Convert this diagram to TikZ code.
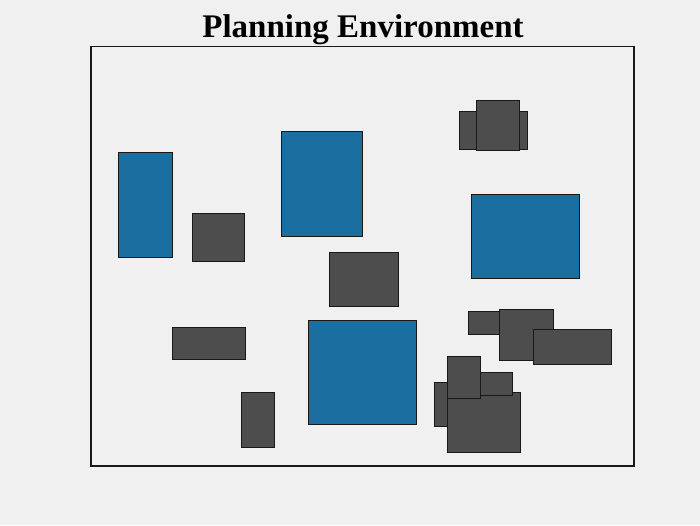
\documentclass[tikz,border=0pt]{standalone}
\usepackage{fontspec}
\setmainfont{Liberation Serif}
\definecolor{bgc}{RGB}{240,240,240}
\definecolor{freeblue}{RGB}{26,111,160}
\definecolor{obsgray}{RGB}{77,77,77}
\tikzset{
  freebox/.style={fill=freeblue, draw=black!90, line width=1pt},
  obsbox/.style={fill=obsgray, draw=black!90, line width=1pt},
  frame/.style={draw=black!90, line width=1.6pt}
}
\begin{document}
\begin{tikzpicture}[x=1pt,y=-1pt]
\fill[bgc] (0,0) rectangle (700,525);
\useasboundingbox (0,0) rectangle (700,525);
\node[font=\bfseries\fontsize{33}{38}\selectfont, anchor=base, inner sep=0pt] (title) at (363,37.5) {Planning Environment};
\draw[frame] (91,46.5) rectangle (634,466);
% free (blue) regions
\draw[freebox] (118,152) rectangle (172,257);
\draw[freebox] (281,131) rectangle (362,236);
\draw[freebox] (471,194) rectangle (579,278);
\draw[freebox] (308,320) rectangle (416,424);
% obstacles
\draw[obsbox] (192,213) rectangle (244,261);
\draw[obsbox] (329,252) rectangle (398,306);
\draw[obsbox] (172,327) rectangle (245,359);
\draw[obsbox] (241,392) rectangle (274,447);
\draw[obsbox] (459,111) rectangle (527,149);
\draw[obsbox] (476,100) rectangle (519,150);
\draw[obsbox] (468,311) rectangle (505,334);
\draw[obsbox] (499,309) rectangle (553,360);
\draw[obsbox] (533,329) rectangle (611,364);
\draw[obsbox] (434,382) rectangle (460,426);
\draw[obsbox] (447,392) rectangle (520,452);
\draw[obsbox] (470,372) rectangle (512,395);
\draw[obsbox] (447,356) rectangle (480,398);
\end{tikzpicture}
\end{document}
